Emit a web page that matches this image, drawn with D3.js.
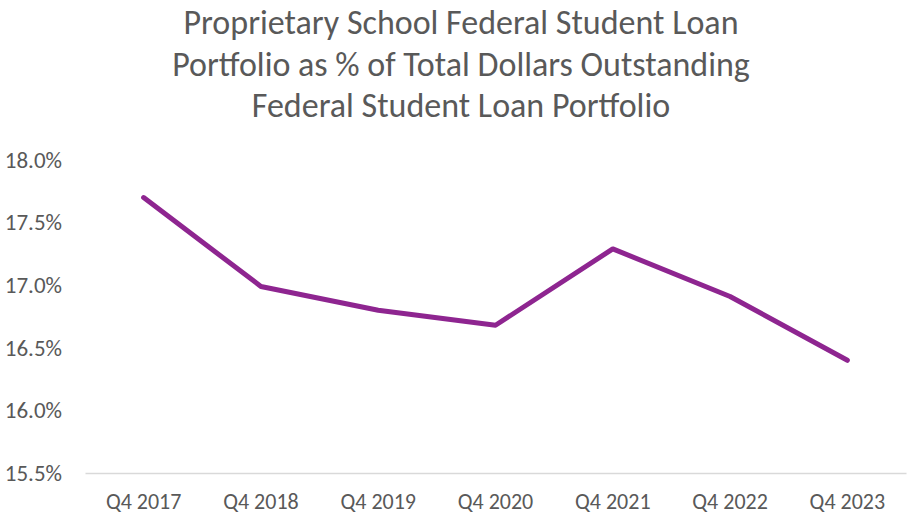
<!DOCTYPE html>
<html>
<head>
<meta charset="utf-8">
<script src="https://cdn.jsdelivr.net/npm/d3@7"></script>
<style>
  body { margin: 0; background: #fff; }
  text { font-family: Calibri, Carlito, Lato, "Open Sans", sans-serif; }
</style>
</head>
<body>
<svg id="chart"></svg>
<script>
const quarters = ["Q4 2017", "Q4 2018", "Q4 2019", "Q4 2020", "Q4 2021", "Q4 2022", "Q4 2023"];
const shares = [17.70, 16.99, 16.80, 16.68, 17.29, 16.91, 16.40];
const yTicks = [15.5, 16.0, 16.5, 17.0, 17.5, 18.0];
const titleLines = [
  "Proprietary School Federal Student Loan",
  "Portfolio as % of Total Dollars Outstanding",
  "Federal Student Loan Portfolio"
];

const width = 907, height = 516;
const margin = { top: 160, right: 1, bottom: 43, left: 85 };
const innerW = width - margin.left - margin.right;
const innerH = height - margin.top - margin.bottom;

const svg = d3.select("#chart").attr("width", width).attr("height", height);

// title
svg.append("g")
  .selectAll("text")
  .data(titleLines)
  .enter()
  .append("text")
  .attr("x", 461)
  .attr("y", (d, i) => 34 + i * 41.5)
  .attr("text-anchor", "middle")
  .attr("fill", "#595959")
  .attr("font-size", "34px")
  .text(d => d);

const x = d3.scaleBand().domain(quarters).range([0, innerW]);
const y = d3.scaleLinear().domain([15.5, 18.0]).range([innerH, 0]);

const g = svg.append("g").attr("transform", `translate(${margin.left},${margin.top})`);

// y axis labels, no line
const yaxis = g.append("g")
  .call(d3.axisLeft(y).tickValues(yTicks).tickFormat(d => d.toFixed(1) + "%").tickSize(0).tickPadding(23));
yaxis.select(".domain").remove();
yaxis.selectAll("text").attr("fill", "#595959").attr("font-size", "23px").attr("font-family", null);

// x axis
const xaxis = g.append("g")
  .attr("transform", `translate(0,${innerH})`)
  .call(d3.axisBottom(x).tickSize(0).tickPadding(20));
xaxis.select(".domain").attr("stroke", "#d9d9d9").attr("stroke-width", 1.5);
xaxis.selectAll("text").attr("fill", "#595959").attr("font-size", "22px").attr("font-family", null);

// line
const line = d3.line()
  .x((d, i) => x(quarters[i]) + x.bandwidth() / 2)
  .y(d => y(d));

g.append("path")
  .datum(shares)
  .attr("d", line)
  .attr("fill", "none")
  .attr("stroke", "#8e2590")
  .attr("stroke-width", 5)
  .attr("stroke-linecap", "round")
  .attr("stroke-linejoin", "round");
</script>
</body>
</html>
